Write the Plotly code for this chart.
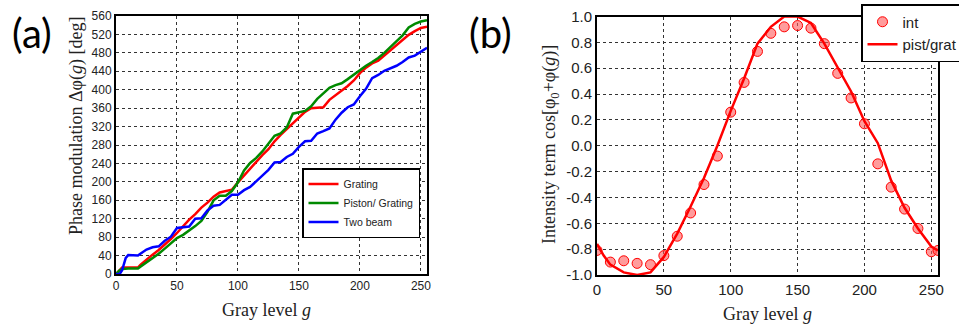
import plotly.graph_objects as go

# ---- (a) phase modulation vs gray level ----
gray_a = [0, 3, 5, 8, 10, 15, 18, 20, 25, 30, 35, 40, 45, 50, 55, 60, 65, 70, 75, 80,
          85, 90, 95, 100, 105, 110, 115, 120, 125, 130, 135, 140, 145, 150, 155, 160,
          165, 170, 175, 180, 185, 190, 195, 200, 205, 210, 215, 220, 225, 230, 235,
          240, 245, 250, 255]

grating = [0, 8, 14, 14, 14, 13, 14, 20, 32, 42, 52, 63, 76, 89, 104, 118, 130, 144, 155, 168,
           177, 180, 183, 199, 214, 230, 243, 258, 271, 288, 302, 315, 328, 341, 352, 360,
           361, 362, 378, 388, 397, 408, 420, 436, 448, 457, 463, 474, 486, 497, 508,
           519, 527, 534, 537]

piston_grating = [0, 8, 11, 12, 12, 12, 12, 16, 25, 34, 44, 55, 66, 78, 85, 94, 104, 115, 135, 160,
                  170, 170, 180, 199, 225, 241, 252, 266, 284, 300, 305, 318, 348, 351, 354, 364,
                  380, 392, 404, 410, 414, 423, 433, 443, 452, 460, 469, 480, 493, 505, 518,
                  535, 543, 548, 551]

two_beam = [0, 0, 8, 35, 41, 40, 40, 44, 53, 58, 60, 72, 81, 100, 101, 103, 120, 121, 138, 148,
            150, 160, 172, 172, 182, 189, 201, 212, 226, 242, 243, 254, 261, 276, 288, 289,
            305, 310, 316, 335, 350, 362, 368, 386, 402, 425, 432, 441, 447, 452, 460,
            470, 474, 482, 491]

# ---- (b) intensity term vs gray level ----
gray_int = [0, 10, 20, 30, 40, 50, 60, 70, 80, 90, 100, 110, 120, 130, 140, 150, 160,
            170, 180, 190, 200, 210, 220, 230, 240, 250, 255]
intensity = [-0.81, -0.90, -0.89, -0.91, -0.92, -0.85, -0.70, -0.52, -0.30, -0.08, 0.26,
             0.49, 0.73, 0.87, 0.92, 0.93, 0.91, 0.79, 0.56, 0.37, 0.17, -0.14, -0.32,
             -0.49, -0.64, -0.82, -0.81]

gray_fit = [0, 5, 10, 20, 30, 40, 50, 60, 70, 80, 90, 100, 110, 120, 130, 140, 150,
            160, 170, 180, 190, 200, 210, 220, 230, 240, 250, 255]
pist_grat = [-0.76, -0.85, -0.92, -0.98, -1.0, -0.98, -0.86, -0.68, -0.47, -0.25, 0.0,
             0.27, 0.52, 0.79, 0.92, 1.0, 1.0, 0.95, 0.79, 0.61, 0.42, 0.19, 0.02,
             -0.27, -0.48, -0.64, -0.78, -0.81]

phase_ticks = list(range(0, 561, 40))
int_ticks = [round(-1 + 0.2 * i, 1) for i in range(11)]
int_ticktext = ["0.0" if abs(v) < 1e-9 else f"{v:.1f}" for v in int_ticks]

W, H = 959, 324
SANS = "Liberation Sans, Arial, sans-serif"
SERIF = "Liberation Serif, Times New Roman, serif"

fig = go.Figure()

fig.add_trace(go.Scatter(x=gray_a, y=grating, mode="lines", name="Grating",
                         line=dict(color="#ff0000", width=2.5), legend="legend"))
fig.add_trace(go.Scatter(x=gray_a, y=piston_grating, mode="lines", name="Piston/ Grating",
                         line=dict(color="#008a00", width=2.5), legend="legend"))
fig.add_trace(go.Scatter(x=gray_a, y=two_beam, mode="lines", name="Two beam",
                         line=dict(color="#0000ff", width=2.5), legend="legend"))

fig.add_trace(go.Scatter(x=gray_int, y=intensity, mode="markers", name="int",
                         marker=dict(size=10, color="rgba(255,90,90,0.6)",
                                     line=dict(color="#ff0000", width=1)),
                         xaxis="x2", yaxis="y2", legend="legend2"))
fig.add_trace(go.Scatter(x=gray_fit, y=pist_grat, mode="lines", name="pist/grat",
                         line=dict(color="#ff0000", width=2.5),
                         xaxis="x2", yaxis="y2", legend="legend2"))

axis_common = dict(showline=True, linecolor="black", linewidth=2, mirror=True,
                   showgrid=True, gridcolor="#333333", gridwidth=1, griddash="dot",
                   zeroline=False, ticks="", color="#222222")

def px_x(p):
    return p / W

def px_y(p):
    return 1 - p / H

fig.update_layout(
    width=W, height=H,
    margin=dict(l=0, r=0, t=0, b=0, autoexpand=False),
    paper_bgcolor="white", plot_bgcolor="white",
    showlegend=True,
    xaxis=dict(domain=[px_x(116), px_x(427)], range=[0, 255], tickvals=[0, 50, 100, 150, 200, 250],
               tickfont=dict(family=SANS, size=12), anchor="y", **axis_common),
    yaxis=dict(domain=[px_y(274), px_y(16)], range=[0, 560], tickvals=phase_ticks,
               tickfont=dict(family=SANS, size=12), anchor="x", **axis_common),
    xaxis2=dict(domain=[px_x(597), px_x(938)], range=[0, 255], tickvals=[0, 50, 100, 150, 200, 250],
                tickfont=dict(family=SANS, size=15), anchor="y2", **axis_common),
    yaxis2=dict(domain=[px_y(275), px_y(16.5)], range=[-1, 1], tickvals=int_ticks,
                ticktext=int_ticktext, tickfont=dict(family=SANS, size=15), anchor="x2",
                **axis_common),
    legend=dict(x=px_x(302), y=px_y(168), xanchor="left", yanchor="top",
                bgcolor="white", bordercolor="black", borderwidth=1.5,
                font=dict(family=SANS, size=10.5, color="#222222"), itemwidth=30,
                tracegroupgap=0),
    legend2=dict(x=px_x(861), y=px_y(4), xanchor="left", yanchor="top",
                 bgcolor="white", bordercolor="black", borderwidth=1.5,
                 font=dict(family=SANS, size=15, color="#222222"), itemwidth=30),
)

annotations = [
    dict(text="(a)", x=px_x(32), y=px_y(33), font=dict(family="Lato, sans-serif", size=40, color="black")),
    dict(text="(b)", x=px_x(490), y=px_y(33), font=dict(family="Lato, sans-serif", size=40, color="black")),
    dict(text="Phase modulation \u0394\u03c6(<i>g</i>) [deg]", x=px_x(77), y=px_y(126),
         textangle=-90, font=dict(family=SERIF, size=18, color="#222222")),
    dict(text="Gray level <i>g</i>", x=px_x(266), y=px_y(310),
         font=dict(family=SERIF, size=18, color="#222222")),
    dict(text="Intensity term cos[\u03c6<sub>0</sub>+\u03c6(<i>g</i>)]", x=px_x(550), y=px_y(145),
         textangle=-90, font=dict(family=SERIF, size=18, color="#222222")),
    dict(text="Gray level <i>g</i>", x=px_x(767), y=px_y(314),
         font=dict(family=SERIF, size=18, color="#222222")),
]
for a in annotations:
    a.update(xref="paper", yref="paper", showarrow=False, xanchor="center", yanchor="middle")
fig.update_layout(annotations=annotations)

fig.write_html("out.html")
